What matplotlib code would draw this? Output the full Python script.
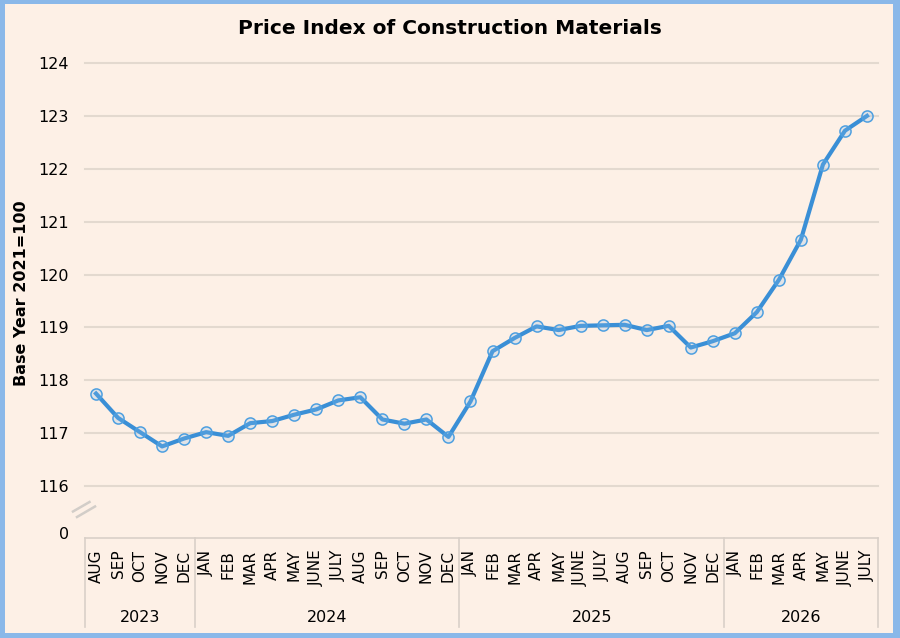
import matplotlib
matplotlib.use("Agg")
import matplotlib.pyplot as plt
from matplotlib.patches import Rectangle
from matplotlib.lines import Line2D

# ---------------- data ----------------
months = ["AUG", "SEP", "OCT", "NOV", "DEC",
          "JAN", "FEB", "MAR", "APR", "MAY", "JUNE", "JULY", "AUG", "SEP", "OCT", "NOV", "DEC",
          "JAN", "FEB", "MAR", "APR", "MAY", "JUNE", "JULY", "AUG", "SEP", "OCT", "NOV", "DEC",
          "JAN", "FEB", "MAR", "APR", "MAY", "JUNE", "JULY"]
years = ["2023", "2024", "2025", "2026"]
months_per_year = [5, 12, 12, 7]
values = [117.75, 117.29, 117.02, 116.75, 116.90,
          117.02, 116.95, 117.19, 117.23, 117.35, 117.45, 117.62, 117.68, 117.26, 117.18, 117.26, 116.93,
          117.60, 118.55, 118.80, 119.02, 118.95, 119.03, 119.04, 119.05, 118.95, 119.03, 118.62, 118.74,
          118.89, 119.29, 119.90, 120.66, 122.08, 122.72, 123.00]
ytick_values = [116, 117, 118, 119, 120, 121, 122, 123, 124]
title = "Price Index of Construction Materials"
ylabel = "Base Year 2021=100"

# ---------------- styling ----------------
W, H = 900, 638
BG = "#fdf0e6"
BORDER = "#8ab8e9"
LINE = "#3a8fd6"
GRID = "#e3d9cf"
BOX = "#d9d0c8"

plt.rcParams["font.family"] = ["DejaVu Sans"]

fig = plt.figure(figsize=(W / 100, H / 100), dpi=100)
fig.patch.set_facecolor(BORDER)
fig.patches.append(Rectangle((5 / W, 1 - 633 / H), (893 - 5) / W, (633 - 4) / H,
                             transform=fig.transFigure, facecolor=BG, edgecolor="none", zorder=-5))

ax_left, ax_right, ax_top, ax_bot = 85, 878, 63, 533
ax = fig.add_axes([ax_left / W, 1 - ax_bot / H, (ax_right - ax_left) / W, (ax_bot - ax_top) / H])
ax.set_facecolor("none")

# y scale with axis break: "0" sits just below 116
px_per_unit = 53.0
y0_pos = 116 - 47 / px_per_unit
ax.set_ylim(y0_pos, 124)
ax.set_xlim(-0.5, len(values) - 0.5)

x = list(range(len(values)))
ax.plot(x, values, color=LINE, lw=3, zorder=3, solid_joinstyle="round")
ax.plot(x, values, ls="none", marker="o", ms=8, mfc=(0.55, 0.75, 0.93, 0.25),
        mec="#4d9fe0", mew=1.1, zorder=4)

ax.set_yticks([y0_pos] + ytick_values)
ax.set_yticklabels(["0"] + [str(v) for v in ytick_values], fontsize=11.5)
ax.tick_params(axis="y", length=0, pad=11.5)
ax.yaxis.grid(True, color=GRID, lw=1.5)
ax.get_ygridlines()[0].set_visible(False)
for gl in ax.get_ygridlines():
    gl.set_clip_on(False)
ax.set_axisbelow(True)

ax.set_xticks(x)
ax.set_xticklabels(months, rotation=90, fontsize=11)
ax.tick_params(axis="x", length=0, pad=12)

for s in ax.spines.values():
    s.set_visible(False)

# category group box
h = ax_bot - ax_top
box_top = -(538 - ax_bot) / h
box_bot = -(627 - ax_bot) / h
tr = ax.get_xaxis_transform()
ax.add_line(Line2D([-0.5, len(values) - 0.5], [box_top, box_top], transform=tr, color=BOX,
                   lw=1.2, clip_on=False))
start = -0.5
bounds = [start]
for n in months_per_year:
    start += n
    bounds.append(start)
for b in bounds:
    ax.add_line(Line2D([b, b], [box_top, box_bot], transform=tr, color=BOX, lw=1.2, clip_on=False))
for i, yr in enumerate(years):
    cx = (bounds[i] + bounds[i + 1]) / 2
    ax.text(cx, -(617 - ax_bot) / h, yr, transform=tr, ha="center", va="center", fontsize=11.5)

# axis-break mark
for (x1, y1, x2, y2) in [(73, 511.5, 89.5, 502), (77, 517, 95, 506.5)]:
    fig.add_artist(Line2D([x1 / W, x2 / W], [1 - y1 / H, 1 - y2 / H], transform=fig.transFigure,
                          color="#d2cdc8", lw=1.8))

fig.text(450 / W, 1 - 28 / H, title, ha="center", va="center", fontsize=14.5, fontweight="bold")
fig.text(22 / W, 1 - 293 / H, ylabel, ha="center", va="center", rotation=90,
         fontsize=11.5, fontweight="bold")

fig.savefig("out.png", dpi=100, facecolor=fig.get_facecolor())
